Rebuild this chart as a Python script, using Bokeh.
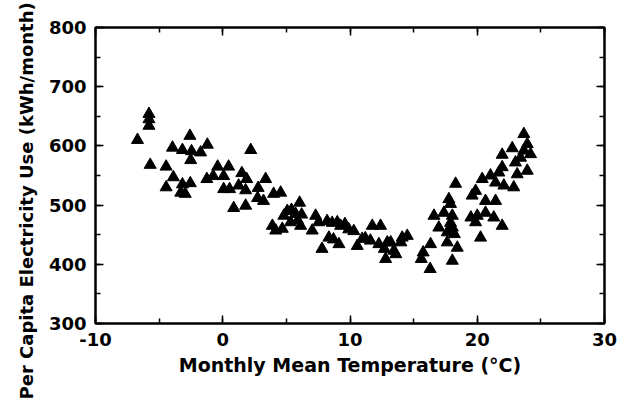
from bokeh.plotting import figure
from bokeh.models import (LinearAxis, SingleIntervalTicker, Title, ColumnDataSource,
                          CustomJSTickFormatter)
from bokeh.embed import file_html
from bokeh.resources import INLINE

# Monthly mean temperature (°C)
temp = [
    -6.7, -5.8, -5.8, -5.8, -5.7, -4.45, -4.45, -3.95, -3.88, -3.17, -3.17, -3.3, -2.95,
    -2.58, -2.45, -2.52, -2.55, -1.74, -1.21, -1.25, -0.75, -0.4, 0.07, 0.46, 0.07, 0.54,
    0.86, 1.25, 1.5, 1.88, 1.8, 1.8, 2.2, 2.78, 2.74, 3.37, 3.2,
    4.55, 4.0, 6.04, 5.07, 4.8, 5.73, 3.9, 4.16, 4.68, 5.33, 6.12, 7.3, 7.54, 8.2, 7.03,
    7.8, 8.34, 9.0, 9.26, 9.9, 9.13, 10.57, 10.96, 11.75, 12.4, 11.6, 12.27, 12.93, 12.8,
    13.45, 14.1, 14.5, 5.4, 5.9, 6.2, 8.6, 8.7, 9.6, 10.3, 12.7, 13.6, 14.0, 13.2, 11.2,
    15.75, 15.6, 16.3, 16.6, 16.33, 16.98, 17.38, 17.64, 17.64, 17.77, 17.9, 18.04, 18.04,
    18.04, 18.3, 18.43, 19.5, 19.6, 19.87, 19.87, 20.0, 20.26, 20.39, 20.65, 20.65, 21.04,
    21.3, 21.44, 21.44, 21.7, 21.96, 21.96, 21.96, 22.09, 22.75, 22.87, 23.0, 23.14, 23.4,
    23.66, 23.66, 23.93, 24.19, 23.93, 18.2, 17.9,
]

# Per capita electricity use (kWh/month)
use = [
    610, 654, 645, 634, 568, 565, 530, 597, 547, 593, 535, 521, 519,
    617, 591, 576, 537, 589, 602, 544, 549, 565, 549, 565, 527, 527,
    495, 533, 554, 544, 525, 499, 593, 529, 512, 544, 507,
    521, 519, 504, 490, 482, 485, 465, 457, 460, 471, 465, 482, 471, 473, 457,
    426, 445, 471, 465, 459, 434, 431, 443, 465, 465, 440, 434, 437, 409,
    423, 445, 448, 492, 474, 484, 470, 442, 468, 456, 426, 417, 437, 437, 444,
    420, 409, 392, 482, 434, 462, 487, 454, 437, 510, 502, 482, 462,
    406, 536, 428, 479, 516, 524, 471, 482, 445, 544, 507, 487, 550,
    479, 507, 538, 555, 585, 564, 465, 533, 596, 530, 572, 552, 580,
    620, 592, 603, 586, 558, 451, 470,
]

x_tick_labels = {-10: "-10", 0: "0", 10: "10", 20: "20", 30: "30"}
x_ticks_interval = 10
y_ticks_interval = 100

FONT = "DejaVu Sans"

p = figure(width=620, height=406, x_range=(-10, 30), y_range=(300, 800),
           output_backend="svg", toolbar_location=None,
           min_border_left=95, min_border_right=16, min_border_top=27, min_border_bottom=83)
p.xaxis.visible = False
p.yaxis.visible = False
p.xgrid.visible = False
p.ygrid.visible = False
p.background_fill_color = "white"
p.border_fill_color = "white"
p.outline_line_color = "black"
p.outline_line_width = 2


def make_axis(ticker, labels):
    ax = LinearAxis(ticker=ticker)
    ax.axis_line_color = "black"
    ax.axis_line_width = 2
    ax.major_tick_in = 8
    ax.major_tick_out = 0
    ax.minor_tick_in = 5
    ax.minor_tick_out = 0
    ax.major_tick_line_width = 1.5
    ax.minor_tick_line_width = 1.5
    ax.major_tick_line_color = "black"
    ax.minor_tick_line_color = "black"
    if labels:
        ax.major_label_text_font = FONT
        ax.major_label_text_font_style = "bold"
        ax.major_label_text_font_size = "18px"
        ax.major_label_text_color = "black"
        ax.major_label_standoff = 9
    else:
        ax.formatter = CustomJSTickFormatter(code="return ''")
        ax.major_label_standoff = 0
    return ax


xb = make_axis(SingleIntervalTicker(interval=x_ticks_interval, num_minor_ticks=2), True)
xb.major_label_overrides = x_tick_labels
xb.axis_label = "Monthly Mean Temperature (°C)"
xb.axis_label_text_font = FONT
xb.axis_label_text_font_style = "bold"
xb.axis_label_text_font_size = "19px"
xb.axis_label_text_color = "black"
xb.axis_label_standoff = 5
p.add_layout(xb, "below")

yl = make_axis(SingleIntervalTicker(interval=y_ticks_interval, num_minor_ticks=2), True)
p.add_layout(yl, "left")

xt = make_axis(SingleIntervalTicker(interval=x_ticks_interval, num_minor_ticks=2), False)
p.add_layout(xt, "above")
yr = make_axis(SingleIntervalTicker(interval=y_ticks_interval, num_minor_ticks=2), False)
p.add_layout(yr, "right")

src = ColumnDataSource(data=dict(x=temp, y=use))
p.scatter("x", "y", source=src, marker="triangle", size=12,
          fill_color="black", line_color="black")

ytitle = Title(text="Per Capita Electricity Use (kWh/month)", align="left", offset=-76,
               text_font=FONT, text_font_style="bold", text_font_size="18px",
               text_color="black", standoff=18)
p.add_layout(ytitle, "left")

open("out.html", "w").write(file_html(p, INLINE))
